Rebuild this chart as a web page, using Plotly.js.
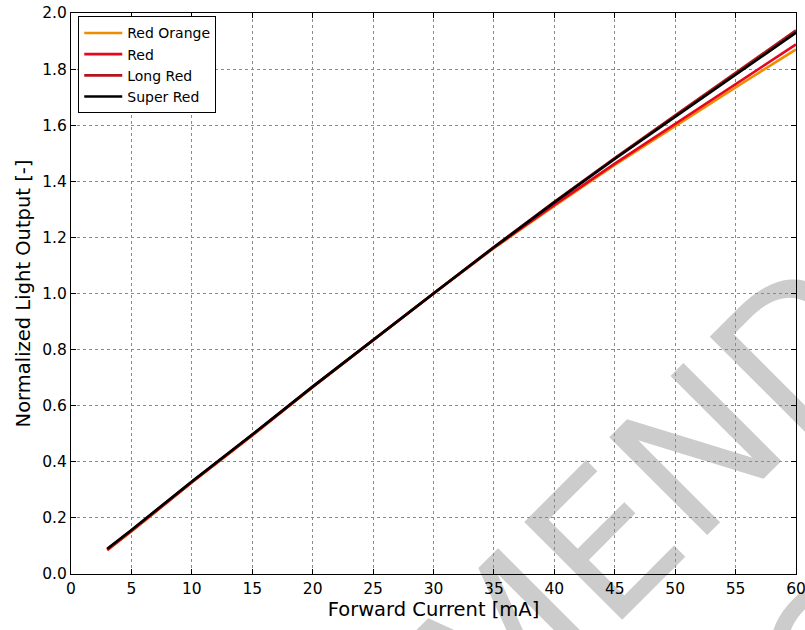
<!DOCTYPE html>
<html>
<head>
<meta charset="utf-8">
<script src="https://cdn.plot.ly/plotly-3.0.1.min.js"></script>
<style>
html,body{margin:0;padding:0;background:#fff;}
#wrap{position:relative;width:805px;height:630px;overflow:hidden;}
#mark,#chart{position:absolute;left:0;top:0;width:805px;height:630px;}
</style>
</head>
<body>
<div id="wrap"><div id="mark"></div><div id="chart"></div></div>
<script>
const current = [3, 5, 10, 15, 20, 25, 30, 35, 40, 45, 50, 55, 60];
const redOrange = [0.085, 0.152, 0.326, 0.494, 0.666, 0.834, 1.0, 1.162, 1.312, 1.458, 1.597, 1.735, 1.870];
const red       = [0.086, 0.153, 0.327, 0.495, 0.667, 0.834, 1.0, 1.163, 1.316, 1.463, 1.605, 1.747, 1.888];
const longRed   = [0.088, 0.155, 0.329, 0.496, 0.668, 0.835, 1.0, 1.166, 1.327, 1.483, 1.635, 1.788, 1.938];
const superRed  = [0.090, 0.157, 0.330, 0.497, 0.668, 0.835, 1.0, 1.165, 1.325, 1.480, 1.631, 1.782, 1.930];
const seriesNames = ["Red Orange", "Red", "Long Red", "Super Red"];
const seriesColors = ["#f08c00", "#e8061e", "#b4141e", "#000000"];
const xTicks = [0, 5, 10, 15, 20, 25, 30, 35, 40, 45, 50, 55, 60];
const yTicks = [0.0, 0.2, 0.4, 0.6, 0.8, 1.0, 1.2, 1.4, 1.6, 1.8, 2.0];
const yTickText = yTicks.map(v => v.toFixed(1));
const watermarkText = "NOT RECOMMENDED<br>FOR NEW DESIGNS";

const font = "DejaVu Sans, sans-serif";
const margin = {l: 70.6, r: 9, t: 13, b: 56};

// Background layer: watermark only (drawn behind the chart)
Plotly.newPlot("mark", [], {
  width: 805, height: 630, margin: margin,
  paper_bgcolor: "#fff", plot_bgcolor: "#fff",
  xaxis: {visible: false}, yaxis: {visible: false}, showlegend: false,
  annotations: [{
    text: watermarkText,
    xref: "paper", yref: "paper", x: 0.479, y: -0.592,
    xanchor: "center", yanchor: "middle", showarrow: false,
    textangle: -45, align: "left",
    font: {family: font, size: 190, color: "#cccccc"}
  }]
}, {displayModeBar: false, staticPlot: true});

const allY = [redOrange, red, longRed, superRed];
const traces = allY.map((ys, i) => ({
  x: current, y: ys, type: "scatter", mode: "lines",
  name: seriesNames[i],
  line: {color: seriesColors[i], width: 2.6}
}));

const axisCommon = {
  showline: true, linecolor: "#000", linewidth: 1, mirror: "ticks",
  ticks: "inside", ticklen: 5, tickcolor: "#000", tickwidth: 1,
  showgrid: true, gridcolor: "#8a8a8a", griddash: "dot", gridwidth: 1,
  zeroline: false, ticklabeloverflow: "allow",
  tickfont: {family: font, size: 15.5, color: "#000"}
};

const layout = {
  width: 805, height: 630,
  margin: margin,
  paper_bgcolor: "rgba(0,0,0,0)", plot_bgcolor: "rgba(0,0,0,0)",
  font: {family: font, color: "#000"},
  showlegend: true,
  legend: {x: 0.010, y: 0.994, xanchor: "left", yanchor: "top",
    bgcolor: "#fff", bordercolor: "#000", borderwidth: 1, itemwidth: 38,
    font: {family: font, size: 14, color: "#000"}, tracegroupgap: 0},
  xaxis: Object.assign({}, axisCommon, {
    range: [0, 60], tickvals: xTicks, ticktext: xTicks.map(String),
    title: {text: "Forward Current [mA]", font: {family: font, size: 19.5}, standoff: 4}
  }),
  yaxis: Object.assign({}, axisCommon, {
    range: [0, 2.0], tickvals: yTicks, ticktext: yTickText,
    title: {text: "Normalized Light Output [-]", font: {family: font, size: 19.5}, standoff: 6}
  })
};

Plotly.newPlot("chart", traces, layout, {displayModeBar: false, staticPlot: true});
</script>
</body>
</html>
